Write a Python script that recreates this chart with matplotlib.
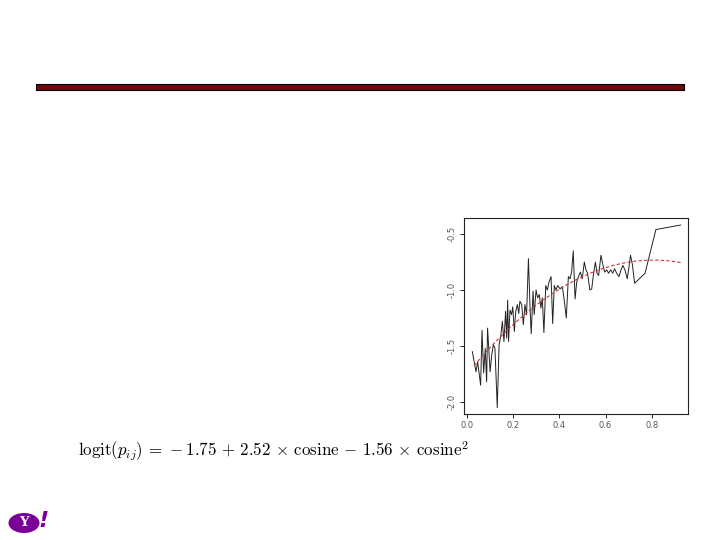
import matplotlib
matplotlib.use("Agg")
import matplotlib.pyplot as plt
from matplotlib.patches import Ellipse, Rectangle

cos_obs = [0.023, 0.039, 0.046, 0.059, 0.065, 0.072, 0.079, 0.085, 0.089, 0.100,
           0.107, 0.114, 0.121, 0.131, 0.139, 0.147, 0.153, 0.160, 0.167, 0.172,
           0.176, 0.180, 0.186, 0.193, 0.198, 0.205, 0.211, 0.218, 0.224, 0.229,
           0.237, 0.244, 0.251, 0.258, 0.266, 0.273, 0.278, 0.286, 0.291, 0.299,
           0.306, 0.313, 0.320, 0.326, 0.333, 0.341, 0.348, 0.355, 0.364, 0.371,
           0.378, 0.385, 0.393, 0.403, 0.413, 0.421, 0.430, 0.439, 0.446, 0.453,
           0.460, 0.468, 0.475, 0.483, 0.491, 0.499, 0.508, 0.515, 0.522, 0.532,
           0.540, 0.547, 0.556, 0.563, 0.570, 0.580, 0.589, 0.596, 0.605, 0.613,
           0.622, 0.631, 0.639, 0.648, 0.658, 0.667, 0.675, 0.684, 0.694, 0.701,
           0.708, 0.716, 0.726, 0.771, 0.818, 0.925]
logit_obs = [-1.55, -1.73, -1.64, -1.85, -1.36, -1.74, -1.52, -1.82, -1.34, -1.73,
             -1.58, -1.49, -1.52, -2.05, -1.49, -1.40, -1.28, -1.46, -1.19, -1.43,
             -1.09, -1.46, -1.18, -1.22, -1.15, -1.37, -1.19, -1.13, -1.21, -1.10,
             -1.13, -1.31, -1.13, -1.22, -0.72, -1.16, -1.39, -1.01, -1.22, -1.00,
             -1.07, -1.04, -1.16, -1.07, -1.38, -0.96, -1.00, -0.93, -0.88, -1.30,
             -0.96, -1.00, -0.96, -0.99, -0.97, -1.09, -1.25, -0.88, -0.90, -0.84,
             -0.65, -1.08, -0.93, -0.88, -0.84, -0.90, -0.75, -0.82, -0.85, -1.00,
             -0.99, -0.87, -0.75, -0.85, -0.87, -0.69, -0.78, -0.84, -0.82, -0.85,
             -0.82, -0.85, -0.81, -0.85, -0.88, -0.82, -0.78, -0.82, -0.90, -0.80,
             -0.69, -0.77, -0.94, -0.85, -0.46, -0.42]

# fitted quadratic curve
cos_fit = [0.03, 0.08, 0.13, 0.18, 0.23, 0.28, 0.33, 0.38, 0.43, 0.48,
           0.53, 0.58, 0.63, 0.68, 0.73, 0.78, 0.83, 0.88, 0.93]
logit_fit = [-1.676, -1.558, -1.449, -1.347, -1.253, -1.167, -1.088, -1.018, -0.955, -0.900,
             -0.853, -0.813, -0.782, -0.758, -0.742, -0.734, -0.733, -0.741, -0.756]

x_ticks = [0.0, 0.2, 0.4, 0.6, 0.8]
y_ticks = [-2.0, -1.5, -1.0, -0.5]

FORMULA = (r"$\mathrm{logit}(p_{ij})\,=\,-1.75\,+\,2.52\,\times\,\mathrm{cosine}"
           r"\,-\,1.56\,\times\,\mathrm{cosine}^2$")

plt.rcParams["mathtext.fontset"] = "cm"

fig = plt.figure(figsize=(7.2, 5.4), dpi=100)
fig.patch.set_facecolor("white")

# slide title bar
fig.patches.append(Rectangle((36 / 720, 1 - 90 / 540), 648 / 720, 6 / 540,
                             transform=fig.transFigure, facecolor="#6e0a0a",
                             edgecolor="black", linewidth=0.8))

ax = fig.add_axes([464 / 720, 1 - 414 / 540, 224 / 720, 196 / 540])
ax.plot(cos_obs, logit_obs, color="#222222", linewidth=0.7)
ax.plot(cos_fit, logit_fit, color="#cc3333", linewidth=0.8, linestyle=(0, (3, 2)))
ax.set_xlim(-0.013, 0.957)
ax.set_ylim(-2.107, -0.357)
ax.set_xticks(x_ticks)
ax.set_xticklabels(["%.1f" % v for v in x_ticks])
ax.set_yticks(y_ticks)
ax.set_yticklabels(["%.1f" % v for v in y_ticks], rotation=90, va="center")
ax.tick_params(direction="out", length=3, width=0.6, labelsize=6,
               labelcolor="#555555", pad=2)
for s in ax.spines.values():
    s.set_linewidth(0.8)
    s.set_color("#222222")

fig.text(78 / 720, 1 - 451 / 540, FORMULA, fontsize=12.2, va="center", ha="left")

# yahoo logo
fig.patches.append(Ellipse((24 / 720, 1 - 523 / 540), 31 / 720, 20 / 540,
                           transform=fig.transFigure, facecolor="#7b0099",
                           edgecolor="none"))
fig.text(24 / 720, 1 - 523 / 540, "Y", color="white", fontsize=9.5,
         fontweight="bold", family="DejaVu Serif", ha="center", va="center")
fig.text(44 / 720, 1 - 521 / 540, "!", color="#7b0099", fontsize=16,
         fontweight="bold", style="italic", ha="center", va="center")

fig.savefig("out.png", dpi=100)
